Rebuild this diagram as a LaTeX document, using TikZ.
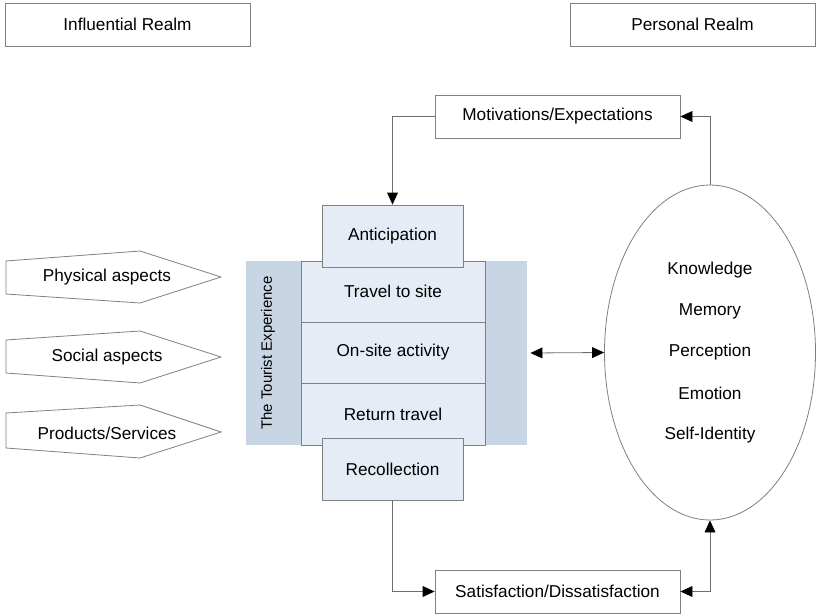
\documentclass[tikz,border=0pt]{standalone}
\usepackage{fontspec}
\setmainfont{Liberation Sans}
\usetikzlibrary{arrows.meta,shapes.geometric}
\definecolor{edgegray}{HTML}{808080}
\definecolor{linegray}{HTML}{6E6E6E}
\definecolor{cellblue}{HTML}{E6ECF6}
\definecolor{bandblue}{HTML}{C8D5E5}
\begin{document}
\begin{tikzpicture}[x=0.5pt, y=-0.5pt,
  every node/.style={font=\fontsize{8.6}{10}\selectfont, inner sep=0pt},
  plainbox/.style={rectangle, draw=edgegray, fill=white, minimum width=122.5pt, minimum height=21.5pt},
  cell/.style={rectangle, draw=edgegray, fill=cellblue, minimum width=92pt, minimum height=30.5pt},
  stagebox/.style={rectangle, draw=edgegray, fill=cellblue, minimum width=70.5pt, minimum height=31pt},
  link/.style={draw=linegray, -{Triangle[black, length=6pt, width=5.4pt]}},
  twoway/.style={draw=linegray, {Triangle[black, length=6pt, width=5.4pt]}-{Triangle[black, length=6pt, width=5.4pt]}},
  aspect/.style={draw=edgegray, fill=white}]
\useasboundingbox (0,0) rectangle (819,615);
% realms
\node [plainbox] (influential) at (127.5,24.5) {Influential Realm};
\node [plainbox] (personal) at (692.5,24.5) {Personal Realm};
% influences on the left
\draw [aspect] (6,261) -- (140,251) -- (221,277) -- (140,303) -- (6,294) -- cycle;
\node (physical) at (107,277) {Physical aspects};
\draw [aspect] (6,340) -- (140,331) -- (221,357) -- (140,383) -- (6,373) -- cycle;
\node (social) at (107,357) {Social aspects};
\draw [aspect] (6,413) -- (140,405) -- (221,432) -- (140,458) -- (6,448) -- cycle;
\node (products) at (107,433) {Products/Services};
% the tourist experience
\node [rectangle, fill=bandblue, minimum width=140.5pt, minimum height=92pt] (band) at (386.5,353) {};
\node [rotate=90, font=\fontsize{7.5}{9}\selectfont] (bandlabel) at (268,353) {The Tourist Experience};
\node [cell] (travel) at (393,291.5) {Travel to site};
\node [cell] (onsite) at (393,352.5) {On-site activity};
\node [cell, minimum height=31pt] (returntravel) at (393,414) {Return travel};
\node [stagebox] (anticipation) at (392.5,236) {Anticipation};
\node [stagebox] (recollection) at (392.5,469) {Recollection};
% personal realm
\node [ellipse, draw=edgegray, fill=white, minimum width=105.5pt, minimum height=167.5pt] (self) at (710,352.5) {};
\node (knowledge) at (710,270) {Knowledge};
\node (memory) at (710,311) {Memory};
\node (perception) at (710,352) {Perception};
\node (emotion) at (710,393) {Emotion};
\node (identity) at (710,435) {Self-Identity};
\node [plainbox] (motivations) at (557.5,116.5) {Motivations/Expectations};
\node [plainbox] (satisfaction) at (557.5,591.5) {Satisfaction/Dissatisfaction};
% connectors
\draw [link] (motivations.west) -| (anticipation.north);
\draw [link] (self.north) |- (motivations.east);
\draw [link] (recollection.south) |- (satisfaction.west);
\draw [twoway] (satisfaction.east) -| (self.south);
\draw [twoway] ([xshift=1.5pt]band.east) -- (self.west);
\end{tikzpicture}
\end{document}
